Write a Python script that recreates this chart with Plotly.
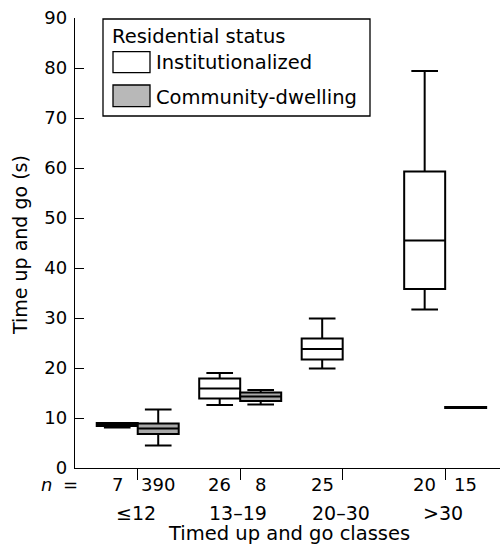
import plotly.graph_objects as go

# ---- data ----
classes = ["≤12", "13–19", "20–30", ">30"]

inst_x = ["≤12", "13–19", "20–30", ">30"]
inst_low = [8.1, 12.6, 19.9, 31.7]
inst_q1 = [8.4, 13.9, 21.7, 35.8]
inst_med = [8.7, 15.9, 23.8, 45.5]
inst_q3 = [9.0, 17.9, 25.9, 59.3]
inst_up = [9.0, 19.0, 29.9, 79.4]
inst_n = [7, 26, 25, 20]

comm_x = ["≤12", "13–19", ">30"]
comm_low = [4.5, 12.7, 12.0]
comm_q1 = [6.8, 13.4, 12.0]
comm_med = [7.9, 14.3, 12.1]
comm_q3 = [8.9, 15.1, 12.2]
comm_up = [11.7, 15.6, 12.2]
comm_n = [390, 8, 15]

FONT = "DejaVu Sans, Liberation Sans, Arial, sans-serif"

fig = go.Figure()
fig.add_trace(go.Box(
    name="Institutionalized", x=inst_x, q1=inst_q1, median=inst_med, q3=inst_q3,
    lowerfence=inst_low, upperfence=inst_up, fillcolor="white",
    line=dict(color="black", width=2), whiskerwidth=0.65, showlegend=False,
))
fig.add_trace(go.Box(
    name="Community-dwelling", x=comm_x, q1=comm_q1, median=comm_med, q3=comm_q3,
    lowerfence=comm_low, upperfence=comm_up, fillcolor="#a9a9a9",
    line=dict(color="black", width=2), whiskerwidth=0.65, showlegend=False,
))

# geometry helpers (paper coords)
L, R, T, B, W, H = 75, 1, 18, 80, 501, 548
PW, PH = W - L - R, H - T - B
def px(x):
    return (x - L) / PW
def py(y):
    return (H - B - y) / PH

def txt(x, y, s, size, xref="paper", xanchor="center", angle=0):
    return dict(xref=xref, yref="paper", x=x, y=y, xanchor=xanchor, yanchor="middle",
                showarrow=False, text=s, textangle=angle,
                font=dict(size=size, family=FONT, color="black"))

annotations = []
# n row
annotations.append(txt(px(46), py(485), "<i>n</i>", 18))
annotations.append(txt(px(70), py(485), "=", 18))
for c, n in zip(inst_x, inst_n):
    annotations.append(txt(classes.index(c) - 0.2, py(485), str(n), 18, xref="x"))
for c, n in zip(comm_x, comm_n):
    annotations.append(txt(classes.index(c) + 0.2, py(485), str(n), 18, xref="x"))
# category labels
for i, c in enumerate(classes):
    annotations.append(txt(i - 0.02, py(513), c, 19, xref="x"))
# axis titles
annotations.append(txt(px(289), py(533), "Timed up and go classes", 19.5))
annotations.append(txt(px(20), py(245), "Time up and go (s)", 19, angle=-90))
# legend (custom)
annotations.append(txt(px(110), py(36), "Residential status", 19.5, xanchor="left"))
annotations.append(txt(px(154), py(63), "Institutionalized", 19.5, xanchor="left"))
annotations.append(txt(px(154), py(97), "Community-dwelling", 19.5, xanchor="left"))

shapes = [
    dict(type="rect", xref="paper", yref="paper", x0=px(103), x1=px(370), y0=py(116), y1=py(19),
         line=dict(color="black", width=1.3), fillcolor="white", layer="below"),
    dict(type="rect", xref="paper", yref="paper", x0=px(113), x1=px(150), y0=py(72.7), y1=py(51.7),
         line=dict(color="black", width=1.3), fillcolor="white"),
    dict(type="rect", xref="paper", yref="paper", x0=px(113), x1=px(150), y0=py(106.7), y1=py(85),
         line=dict(color="black", width=1.3), fillcolor="#b8b8b8"),
]

fig.update_layout(
    width=W, height=H, margin=dict(l=L, r=R, t=T, b=B),
    paper_bgcolor="white", plot_bgcolor="white",
    boxmode="group", boxgap=0.2, boxgroupgap=0,
    font=dict(family=FONT, size=18, color="black"),
    annotations=annotations, shapes=shapes, showlegend=False,
)
fig.update_xaxes(
    type="category", categoryorder="array", categoryarray=classes,
    range=[-0.612, 3.535], showticklabels=False, ticks="outside", ticklen=11,
    tickwidth=1.3, tickcolor="black", showline=True, linecolor="black", linewidth=1.3,
    showgrid=False, zeroline=False,
)
fig.update_yaxes(
    range=[0, 90], dtick=10, tick0=0, ticks="inside", ticklen=9, tickwidth=1.3,
    tickcolor="black", showline=True, linecolor="black", linewidth=1.3,
    showgrid=False, zeroline=False, ticklabelstandoff=3,
    tickfont=dict(size=18, family=FONT, color="black"),
)

fig.write_html("out.html", config={"displayModeBar": False},
               post_script="document.body.style.margin='0';document.body.style.padding='0';")
